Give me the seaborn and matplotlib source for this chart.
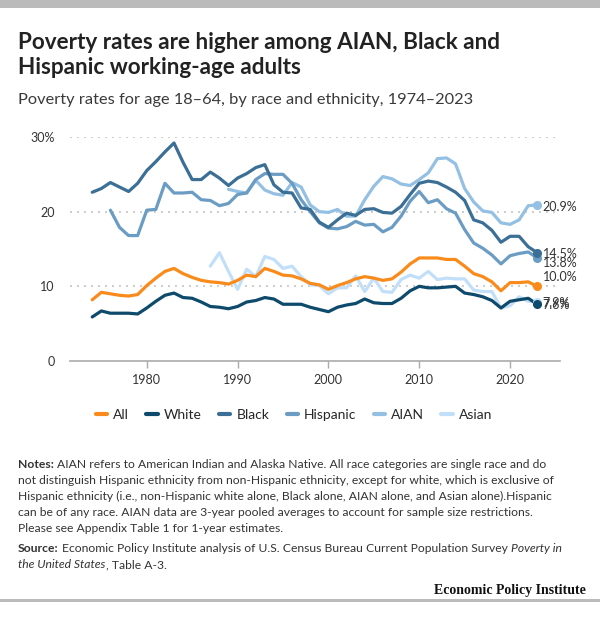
import numpy as np
import pandas as pd
import matplotlib
matplotlib.use("Agg")
import matplotlib.pyplot as plt
from matplotlib.lines import Line2D
import seaborn as sns

# ---------------- data ----------------
years = list(range(1974, 2024))
all_rate = [8.2, 9.2, 9.0, 8.8, 8.7, 8.9, 10.1, 11.1, 12.0, 12.4,
            11.7, 11.2, 10.8, 10.6, 10.5, 10.3, 10.8, 11.5, 11.3, 12.4,
            12.0, 11.5, 11.4, 11.0, 10.4, 10.2, 9.6, 10.1, 10.5, 11.0,
            11.3, 11.1, 10.8, 11.0, 11.9, 13.0, 13.8, 13.8, 13.8, 13.6,
            13.6, 12.7, 11.7, 11.3, 10.6, 9.4, 10.5, 10.5, 10.6, 10.0]
white_rate = [5.9, 6.7, 6.4, 6.4, 6.4, 6.3, 7.1, 8.0, 8.8, 9.1,
              8.5, 8.4, 7.9, 7.3, 7.2, 7.0, 7.3, 7.9, 8.1, 8.5,
              8.3, 7.6, 7.6, 7.6, 7.2, 6.9, 6.6, 7.2, 7.5, 7.7,
              8.3, 7.8, 7.7, 7.7, 8.4, 9.4, 10.0, 9.8, 9.8, 9.9,
              10.0, 9.1, 8.9, 8.6, 8.1, 7.1, 8.0, 8.2, 8.4, 7.6]
black_rate = [22.6, 23.1, 23.9, 23.3, 22.7, 23.8, 25.5, 26.7, 28.0, 29.2,
              26.6, 24.3, 24.3, 25.3, 24.5, 23.5, 24.5, 25.1, 25.9, 26.3,
              23.6, 22.6, 22.5, 20.5, 20.3, 18.6, 17.9, 18.9, 19.8, 19.5,
              20.3, 20.4, 19.9, 19.8, 20.7, 22.3, 23.8, 24.1, 23.9, 23.3,
              22.6, 21.5, 18.9, 18.5, 17.5, 15.9, 16.7, 16.7, 15.3, 14.5]
hispanic_years = list(range(1976, 2024))
hispanic_rate = [20.2, 17.9, 16.8, 16.8, 20.2, 20.3, 23.8, 22.5, 22.5, 22.6,
                 21.6, 21.5, 20.8, 21.1, 22.3, 22.5, 24.3, 25.1, 25.0, 25.0,
                 23.8, 21.6, 20.0, 18.5, 17.8, 17.7, 18.0, 18.7, 18.2, 18.3,
                 17.3, 17.9, 19.4, 21.4, 22.7, 21.2, 21.6, 20.4, 19.8, 17.6,
                 15.8, 15.1, 14.2, 13.0, 14.1, 14.4, 14.6, 13.8]
aian_years = list(range(1989, 2024))
aian_rate = [23.0, 22.7, 22.5, 24.2, 22.9, 22.4, 22.2, 23.9, 23.3, 20.9,
             20.0, 19.9, 20.3, 19.4, 19.4, 21.6, 23.4, 24.7, 24.4, 23.7,
             23.5, 24.3, 25.2, 27.1, 27.2, 26.4, 23.1, 21.3, 20.1, 19.9,
             18.5, 18.3, 18.9, 20.8, 20.9]
asian_years = list(range(1987, 2024))
asian_rate = [12.7, 14.5, 12.0, 9.6, 12.3, 11.3, 14.0, 13.6, 12.4, 12.7,
              11.3, 10.2, 10.1, 9.0, 9.8, 9.8, 11.4, 9.3, 11.1, 9.3,
              9.2, 10.9, 11.5, 11.1, 12.0, 10.9, 11.1, 11.0, 11.0, 9.5,
              9.3, 9.3, 7.1, 7.4, 8.6, 8.0, 7.9]

groups = ["All", "White", "Black", "Hispanic", "AIAN", "Asian"]
x_ticks = [1980, 1990, 2000, 2010, 2020]
y_ticks = [0, 10, 20, 30]
y_tick_labels = ["0", "10", "20", "30%"]

colors = {"All": "#f98b1c", "White": "#0e4a6b", "Black": "#3b6f95",
          "Hispanic": "#6b9cc3", "AIAN": "#94c0e3", "Asian": "#c2dffa"}

series = {
    "All": (years, all_rate),
    "White": (years, white_rate),
    "Black": (years, black_rate),
    "Hispanic": (hispanic_years, hispanic_rate),
    "AIAN": (aian_years, aian_rate),
    "Asian": (asian_years, asian_rate),
}
frames = [pd.DataFrame({"year": yrs, "rate": vals, "group": g})
          for g, (yrs, vals) in series.items()]
df = pd.concat(frames, ignore_index=True)

# ---------------- figure ----------------
sns.set_theme(style="white")
plt.rcParams["font.family"] = ["Lato", "DejaVu Sans"]

W, H = 600, 632
fig = plt.figure(figsize=(W / 100, H / 100), dpi=100)
fig.patch.set_facecolor("white")

def fx(x):
    return x / W

def fy(y):
    return 1 - y / H

ax = fig.add_axes([fx(70), fy(361), (560 - 70) / W, (361 - 137) / H])

# dotted gridlines
for v in y_ticks[1:]:
    ax.axhline(v, color="#cccccc", lw=1.4, ls=(0, (1, 2.6)), zorder=0)

draw_order = ["Asian", "AIAN", "Hispanic", "Black", "White", "All"]
sns.lineplot(data=df, x="year", y="rate", hue="group", hue_order=draw_order,
             palette=colors, linewidth=2.3, legend=False, ax=ax,
             estimator=None, sort=True)

# end markers + labels
label_offsets = {"AIAN": (4, -1.5), "Black": (4, -1), "Hispanic": (4, -3.5),
                 "All": (4, 7), "Asian": (4, -0.8), "White": (4, -0.5)}
for g in draw_order:
    yrs, vals = series[g]
    ax.plot([yrs[-1]], [vals[-1]], marker="o", ms=5.5, color=colors[g],
            zorder=5, clip_on=False)
    dx, dy = label_offsets[g]
    ax.annotate(f"{vals[-1]:.1f}%", (yrs[-1], vals[-1]), xytext=(dx, dy),
                textcoords="offset points", ha="left", va="center",
                fontsize=9, color="#333333", annotation_clip=False)

ax.set_xlim(1971.55, 2025.5)
ax.set_ylim(0, 30)
ax.set_xticks(x_ticks)
ax.set_xticklabels([str(t) for t in x_ticks])
ax.set_yticks(y_ticks)
ax.set_yticklabels(y_tick_labels)
ax.set_xlabel("")
ax.set_ylabel("")
for s in ["top", "right", "left"]:
    ax.spines[s].set_visible(False)
ax.spines["bottom"].set_color("#aaaaaa")
ax.spines["bottom"].set_linewidth(1.2)
ax.tick_params(axis="x", which="both", bottom=True, length=5, width=1,
               color="#aaaaaa", labelsize=9, labelcolor="#333333", pad=4,
               direction="out")
ax.tick_params(axis="y", length=0, labelsize=9, labelcolor="#333333", pad=11)
ax.set_facecolor("white")

# legend
handles = [Line2D([0], [0], color=colors[g], lw=3) for g in groups]
fig.legend(handles, groups, loc="center", bbox_to_anchor=(fx(294), fy(415)),
           ncol=6, frameon=False, handlelength=0.8, handletextpad=0.45,
           columnspacing=1.25, prop={"family": "Lato", "size": 10})

# top / bottom rules
fig.add_artist(plt.Rectangle((0, fy(8)), 1, 8 / H, transform=fig.transFigure,
                             color="#bbbbbb", lw=0))
fig.add_artist(plt.Rectangle((0, fy(602)), 1, 3 / H, transform=fig.transFigure,
                             color="#bbbbbb", lw=0))

# titles
fig.text(fx(18), fy(49), "Poverty rates are higher among AIAN, Black and",
         fontsize=16.2, fontweight="bold", color="#222222", va="baseline")
fig.text(fx(18), fy(74), "Hispanic working-age adults",
         fontsize=16.2, fontweight="bold", color="#222222", va="baseline")
fig.text(fx(18), fy(104), "Poverty rates for age 18\u201364, by race and ethnicity, 1974\u20132023",
         fontsize=11.8, color="#3a3a3a", va="baseline")

# notes with mixed styles
fig.canvas.draw()
renderer = fig.canvas.get_renderer()
NOTE_SIZE = 8.75

def draw_runs(x, y, runs):
    for text, weight, style in runs:
        t = fig.text(fx(x), fy(y), text, fontsize=NOTE_SIZE, fontweight=weight,
                     fontstyle=style, color="#333333", va="baseline")
        bb = t.get_window_extent(renderer)
        x += bb.width + 3.2

draw_runs(18, 468, [("Notes:", "bold", "normal"),
                    ("AIAN refers to American Indian and Alaska Native. All race categories are single race and do", "normal", "normal")])
note_lines = [
    "not distinguish Hispanic ethnicity from non-Hispanic ethnicity, except for white, which is exclusive of",
    "Hispanic ethnicity (i.e., non-Hispanic white alone, Black alone, AIAN alone, and Asian alone).Hispanic",
    "can be of any race. AIAN data are 3-year pooled averages to account for sample size restrictions.",
    "Please see Appendix Table 1 for 1-year estimates.",
]
for i, line in enumerate(note_lines):
    draw_runs(18, 484 + 16 * i, [(line, "normal", "normal")])

draw_runs(18, 552, [("Source:", "bold", "normal"),
                    ("Economic Policy Institute analysis of U.S. Census Bureau Current Population Survey", "normal", "normal"),
                    ("Poverty in", "normal", "italic")])
t1 = fig.text(fx(18), fy(568), "the United States", fontsize=NOTE_SIZE,
              fontstyle="italic", color="#333333", va="baseline")
bb = t1.get_window_extent(renderer)
fig.text(fx(18 + bb.width + 0.5), fy(568), ", Table A-3.", fontsize=NOTE_SIZE,
         color="#333333", va="baseline")

fig.text(fx(586), fy(594), "Economic Policy Institute", fontsize=10,
         fontweight="bold", family=["Liberation Serif", "DejaVu Serif"],
         color="#111111", ha="right", va="baseline")

fig.savefig("out.png", dpi=100, facecolor="white")
